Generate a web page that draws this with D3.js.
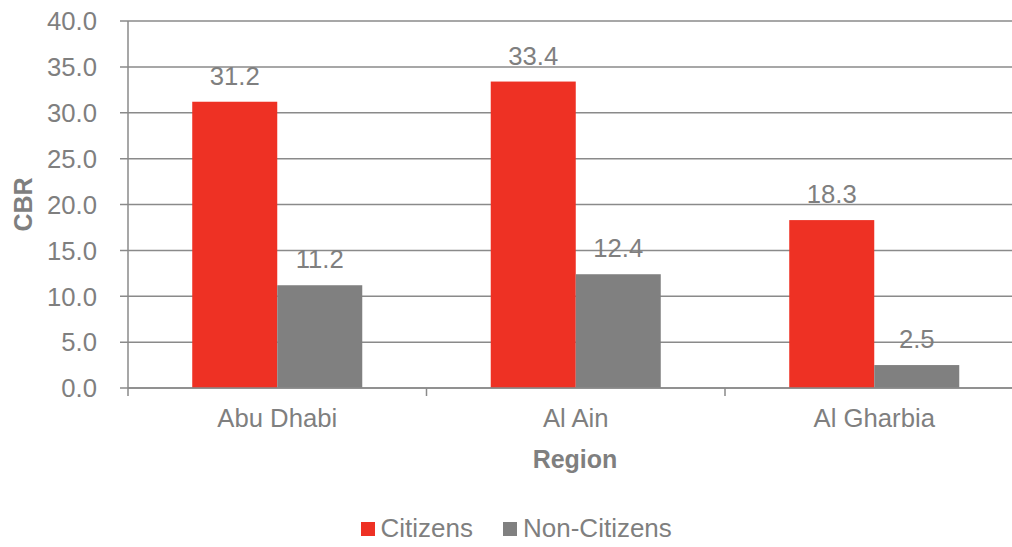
<!DOCTYPE html>
<html>
<head>
<meta charset="utf-8">
<script src="https://cdn.jsdelivr.net/npm/d3@7"></script>
<style>
  html, body { margin: 0; padding: 0; background: #fff; }
  svg { display: block; font-family: "Liberation Sans", Arial, sans-serif; }
</style>
</head>
<body>
<svg id="chart" width="1012" height="547"></svg>
<script>
const categories = ["Abu Dhabi", "Al Ain", "Al Gharbia"];
const seriesNames = ["Citizens", "Non-Citizens"];
const citizens = [31.2, 33.4, 18.3];
const nonCitizens = [11.2, 12.4, 2.5];
const yTicks = [0, 5, 10, 15, 20, 25, 30, 35, 40];
const colors = ["#EE3124", "#808080"];

const svg = d3.select("#chart");
const margin = { left: 128, right: -11.5, top: 21, bottom: 159 };
const W = 1012, H = 547;
const plotW = W - margin.left - margin.right;
const plotH = H - margin.top - margin.bottom;
const textColor = "#7F7F7F";
const lineColor = "#8A8A8A";
const fs = "25.7px";

const x0 = d3.scaleBand().domain(categories).range([0, plotW]).paddingInner(0).paddingOuter(0);
const x1 = d3.scaleBand().domain(seriesNames).range([x0.bandwidth() * 0.2152, x0.bandwidth() * 0.7848]);
const y = d3.scaleLinear().domain([0, 40]).range([plotH, 0]);

const g = svg.append("g").attr("transform", `translate(${margin.left},${margin.top})`);

// gridlines
g.append("g").selectAll("line").data(yTicks).join("line")
  .attr("x1", -8).attr("x2", plotW)
  .attr("y1", d => y(d)).attr("y2", d => y(d))
  .attr("stroke", lineColor).attr("stroke-width", 1.5);

// y tick labels
g.append("g").selectAll("text").data(yTicks).join("text")
  .attr("x", -31).attr("y", d => y(d)).attr("dy", "0.36em")
  .attr("text-anchor", "end").attr("fill", textColor)
  .style("font-size", fs)
  .text(d => d3.format(".1f")(d));

// bars
const data = categories.map((c, i) => ({ cat: c, vals: [
  { s: seriesNames[0], v: citizens[i], c: colors[0] },
  { s: seriesNames[1], v: nonCitizens[i], c: colors[1] }
]}));

const groups = g.append("g").selectAll("g").data(data).join("g")
  .attr("transform", d => `translate(${x0(d.cat)},0)`);

groups.selectAll("rect").data(d => d.vals).join("rect")
  .attr("x", d => x1(d.s)).attr("width", x1.bandwidth())
  .attr("y", d => y(d.v)).attr("height", d => y(0) - y(d.v))
  .attr("fill", d => d.c);

groups.selectAll("text").data(d => d.vals).join("text")
  .attr("x", d => x1(d.s) + x1.bandwidth() / 2)
  .attr("y", d => y(d.v) - 17)
  .attr("text-anchor", "middle").attr("fill", textColor)
  .style("font-size", fs)
  .text(d => d3.format(".1f")(d.v));

// y axis line
g.append("line").attr("x1", 0).attr("x2", 0).attr("y1", 0).attr("y2", plotH)
  .attr("stroke", lineColor).attr("stroke-width", 1.5);

// x axis line + ticks
g.append("line").attr("x1", 0).attr("x2", plotW).attr("y1", plotH).attr("y2", plotH)
  .attr("stroke", lineColor).attr("stroke-width", 1.5);
const bounds = categories.map(c => x0(c)).concat([plotW]);
g.append("g").selectAll("line").data(bounds).join("line")
  .attr("x1", d => d).attr("x2", d => d)
  .attr("y1", plotH).attr("y2", plotH + 8)
  .attr("stroke", lineColor).attr("stroke-width", 1.5);

// category labels
g.append("g").selectAll("text").data(categories).join("text")
  .attr("x", d => x0(d) + x0.bandwidth() / 2).attr("y", plotH + 39)
  .attr("text-anchor", "middle").attr("fill", textColor)
  .style("font-size", fs)
  .text(d => d);

// axis titles
svg.append("text").attr("x", 575).attr("y", 468)
  .attr("text-anchor", "middle").attr("fill", textColor)
  .style("font-size", "25px").style("font-weight", "bold")
  .text("Region");
svg.append("text")
  .attr("transform", `translate(32,${margin.top + plotH / 2}) rotate(-90)`)
  .attr("text-anchor", "middle").attr("fill", textColor)
  .style("font-size", "25px").style("font-weight", "bold")
  .text("CBR");

// legend
const legendItems = [
  { name: seriesNames[0], c: colors[0], x: 361, tx: 380.5 },
  { name: seriesNames[1], c: colors[1], x: 503, tx: 523 }
];
const lg = svg.append("g");
lg.selectAll("rect").data(legendItems).join("rect")
  .attr("x", d => d.x).attr("y", 522).attr("width", 14).attr("height", 14)
  .attr("fill", d => d.c);
lg.selectAll("text").data(legendItems).join("text")
  .attr("x", d => d.tx).attr("y", 537)
  .attr("fill", textColor).style("font-size", "26px")
  .text(d => d.name);
</script>
</body>
</html>
